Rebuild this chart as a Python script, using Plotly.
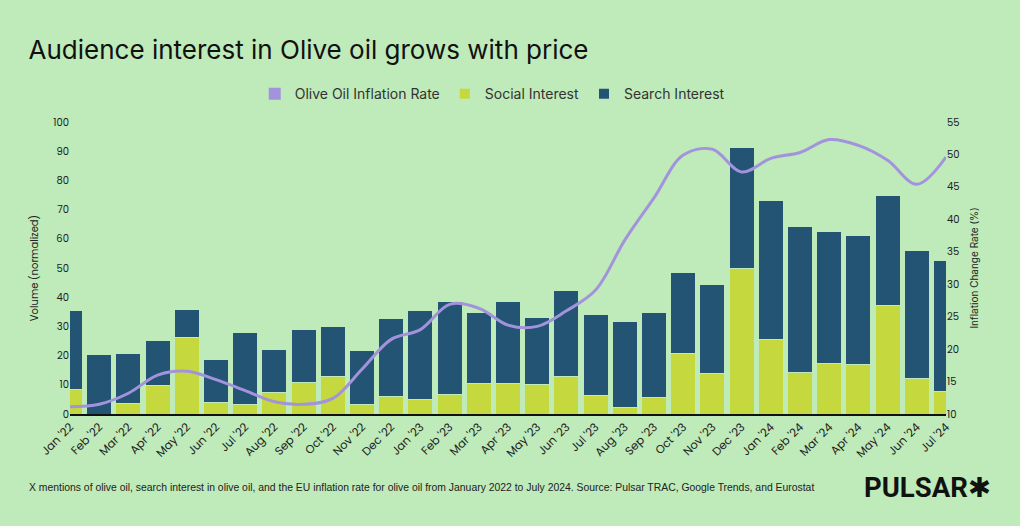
import plotly.graph_objects as go

months = ["Jan '22", "Feb '22", "Mar '22", "Apr '22", "May '22", "Jun '22", "Jul '22", "Aug '22",
          "Sep '22", "Oct '22", "Nov '22", "Dec '22", "Jan '23", "Feb '23", "Mar '23", "Apr '23",
          "May '23", "Jun '23", "Jul '23", "Aug '23", "Sep '23", "Oct '23", "Nov '23", "Dec '23",
          "Jan '24", "Feb '24", "Mar '24", "Apr '24", "May '24", "Jun '24", "Jul '24"]

social_interest = [8.5, 0.0, 3.7, 9.6, 26.1, 3.9, 3.4, 7.4, 10.7, 12.8, 3.4, 5.9, 5.1, 6.8, 10.3, 10.4,
                   10.0, 13.0, 6.2, 2.3, 5.8, 20.7, 13.9, 50.0, 25.6, 14.3, 17.4, 17.1, 37.2, 12.2, 7.6]

total_volume = [35.3, 20.5, 20.8, 25.3, 35.8, 18.5, 28.0, 22.0, 29.0, 30.0, 21.8, 32.6, 35.5, 38.6, 34.7, 38.5,
                33.1, 42.2, 34.2, 31.8, 34.9, 48.6, 44.5, 91.2, 73.2, 64.3, 62.4, 61.0, 74.9, 56.1, 52.7]

search_interest = [round(t - s, 1) for t, s in zip(total_volume, social_interest)]

inflation_rate = [11.1, 11.5, 13.2, 16.0, 16.6, 15.3, 13.6, 11.9, 11.5, 12.4, 16.9, 21.5, 23.0, 26.9, 26.3, 23.7,
                  23.5, 25.9, 29.1, 36.8, 43.3, 49.9, 50.8, 47.3, 49.4, 50.3, 52.3, 51.4, 49.1, 45.4, 49.6]

BG = "#bfeab9"
LIME = "#c5d83e"
NAVY = "#245474"
LAV = "#a393dd"

fig = go.Figure()

fig.add_trace(go.Bar(x=months, y=social_interest, name="Social Interest", marker=dict(color=LIME, line=dict(color=BG, width=1)),
                     width=0.85, showlegend=True, legendrank=2))
fig.add_trace(go.Bar(x=months, y=search_interest, name="Search Interest", marker=dict(color=NAVY, line=dict(color=BG, width=1)),
                     width=0.85, showlegend=True, legendrank=3))
fig.add_trace(go.Scatter(x=months, y=inflation_rate, yaxis="y2", mode="lines", name="Olive Oil Inflation Rate",
                         line=dict(color=LAV, width=3, shape="spline", smoothing=1.0), showlegend=False))
# legend swatch (square) for the line series
fig.add_trace(go.Scatter(x=[None], y=[None], yaxis="y2", mode="markers", name="Olive Oil Inflation Rate",
                         marker=dict(symbol="square", color=LAV, size=13), showlegend=True, legendrank=1))

tickfont = dict(family="Poppins, Lato, Open Sans, sans-serif", size=10, color="#222")
xtickfont = dict(family="Poppins, Lato, Open Sans, sans-serif", size=11.5, color="#222")

fig.update_layout(
    width=1020, height=526,
    paper_bgcolor=BG, plot_bgcolor=BG,
    barmode="stack", bargap=0.15,
    margin=dict(l=70, r=74, t=122, b=112),
    title=dict(text="Audience interest in Olive oil grows with price", x=0.028, xanchor="left", y=0.905, yanchor="middle",
               font=dict(family="Inter, Roboto, sans-serif", size=26, color="#111")),
    legend=dict(orientation="h", x=0.482, xanchor="center", y=1.095, yanchor="middle",
                font=dict(family="Inter, Roboto, sans-serif", size=14, color="#333"),
                bgcolor="rgba(0,0,0,0)", itemsizing="constant", traceorder="normal"),
    xaxis=dict(type="category", range=[0, 30], tickangle=-45, tickfont=xtickfont, showgrid=False,
               showline=True, linecolor="#111", linewidth=1.5, ticks="", zeroline=False),
    yaxis=dict(range=[0, 100], dtick=10, showgrid=False, zeroline=False, tickfont=tickfont,
               title=dict(text="Volume (normalized)", font=dict(family="Poppins, Lato, sans-serif", size=10, color="#222"), standoff=12)),
    yaxis2=dict(range=[10, 55], dtick=5, overlaying="y", side="right", showgrid=False, zeroline=False, tickfont=tickfont,
                title=dict(text="Inflation Change Rate (%)", font=dict(family="Inter, Roboto, sans-serif", size=10, color="#222"), standoff=12)),
    annotations=[
        dict(text="X mentions of olive oil, search interest in olive oil, and the EU inflation rate for olive oil from January 2022 to July 2024. Source: Pulsar TRAC, Google Trends, and Eurostat",
             xref="paper", yref="paper", x=-(70 - 27) / 876, xanchor="left", y=-(487 - 414) / 292, yanchor="middle", showarrow=False,
             font=dict(family="Liberation Sans, Arial, sans-serif", size=10.4, color="#222")),
        dict(text="<b>PULSAR✱</b>", xref="paper", yref="paper", x=(993 - 70) / 876, xanchor="right", y=-(487 - 414) / 292, yanchor="middle",
             showarrow=False, font=dict(family="Roboto, DejaVu Sans, sans-serif", size=27.5, color="#111")),
    ],
)

fig.write_html("out.html", config={"displayModeBar": False},
               post_script="document.body.style.margin='0';document.body.style.background='" + BG + "';")
